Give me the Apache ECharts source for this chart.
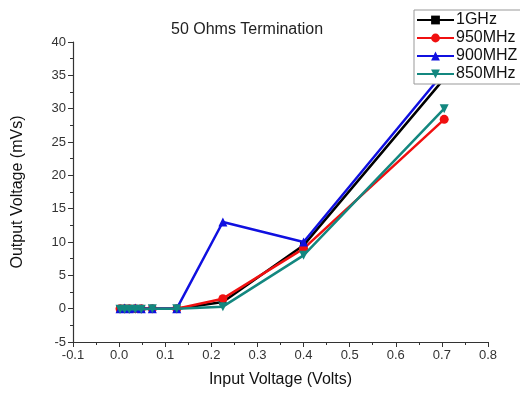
<!DOCTYPE html>
<html>
<head>
<meta charset="utf-8">
<script src="https://cdn.jsdelivr.net/npm/echarts@6/dist/echarts.min.js"></script>
<style>
  html, body { margin: 0; padding: 0; background: #fff; }
  #chart { width: 520px; height: 393px; }
</style>
</head>
<body>
<div id="chart"></div>
<script>
// input voltage (V) for each sample
const inputVolts = [0.002, 0.012, 0.022, 0.035, 0.048, 0.072, 0.125, 0.225, 0.4, 0.705];

// output voltage (mV) per frequency
const out1GHz   = [0, 0, 0, 0, 0, 0, 0, 1.0, 9.5, 34.5];
const out950MHz = [0, 0, 0, 0, 0, 0, 0, 1.5, 9.0, 28.4];
const out900MHz = [0, 0.1, 0, 0.1, 0, 0, 0, 13.0, 10.0, 35.5];
const out850MHz = [-0.1, -0.1, -0.1, -0.1, -0.1, 0, 0, 0.3, 8.0, 30.0];

const seriesNames = ['1GHz', '950MHz', '900MHZ', '850MHz'];
const seriesValues = [out1GHz, out950MHz, out900MHz, out850MHz];
const seriesColors = ['#000000', '#f01010', '#1010e0', '#13877f'];
const seriesSymbols = ['rect', 'circle', 'triangle', 'path://M0,0 L10,0 L5,9 Z'];

const chart = echarts.init(document.getElementById('chart'));

const font = 'Liberation Sans, Arial, sans-serif';

const series = seriesNames.map((name, i) => ({
    name: name,
    type: 'line',
    data: inputVolts.map((x, j) => [x, seriesValues[i][j]]),
    symbol: seriesSymbols[i],
    symbolSize: i === 0 ? 7 : 9,
    showAllSymbol: true,
    color: seriesColors[i],
    lineStyle: { width: 2.5, color: seriesColors[i] },
    itemStyle: { color: seriesColors[i] },
    z: 2 + i
}));

const option = {
    animation: false,
    backgroundColor: '#fff',
    title: {
        text: '50 Ohms Termination',
        left: 166,
        top: 17,
        textStyle: { fontFamily: font, fontSize: 16, fontWeight: 'normal', color: '#222' }
    },
    legend: {
        z: 20,
        orient: 'vertical',
        left: 414,
        top: 10,
        padding: [1, 40, 1, 2],
        itemWidth: 37,
        itemHeight: 11,
        itemGap: 0,
        backgroundColor: '#fff',
        borderColor: '#999',
        borderWidth: 1,
        borderRadius: 0,
        textStyle: { fontFamily: font, fontSize: 16, lineHeight: 18, color: '#111', padding: [0, 0, 0, -3] },
        data: seriesNames
    },
    grid: {
        left: 73,
        right: 32,
        top: 42,
        bottom: 46
    },
    xAxis: {
        type: 'value',
        min: -0.1,
        max: 0.8,
        interval: 0.1,
        name: 'Input Voltage (Volts)',
        nameLocation: 'middle',
        nameGap: 30,
        nameTextStyle: { fontFamily: font, fontSize: 16, color: '#111' },
        axisLine: { onZero: false, lineStyle: { color: '#333', width: 1.2 } },
        axisTick: { inside: false, length: 5, lineStyle: { color: '#333' } },
        minorTick: { show: true, splitNumber: 2, length: 3, lineStyle: { color: '#333' } },
        splitLine: { show: false },
        axisLabel: {
            fontFamily: font, fontSize: 13, color: '#333', margin: 7,
            formatter: v => v.toFixed(1)
        }
    },
    yAxis: {
        type: 'value',
        min: -5,
        max: 40,
        interval: 5,
        name: 'Output Voltage (mVs)',
        nameLocation: 'middle',
        nameGap: 47,
        nameTextStyle: { fontFamily: font, fontSize: 16, color: '#111' },
        axisLine: { show: true, onZero: false, lineStyle: { color: '#333', width: 1.2 } },
        axisTick: { show: true, inside: false, length: 5, lineStyle: { color: '#333' } },
        minorTick: { show: true, splitNumber: 2, length: 3, lineStyle: { color: '#333' } },
        splitLine: { show: false },
        axisLabel: { fontFamily: font, fontSize: 13, color: '#333', margin: 7 }
    },
    series: series
};

chart.setOption(option);
</script>
</body>
</html>
